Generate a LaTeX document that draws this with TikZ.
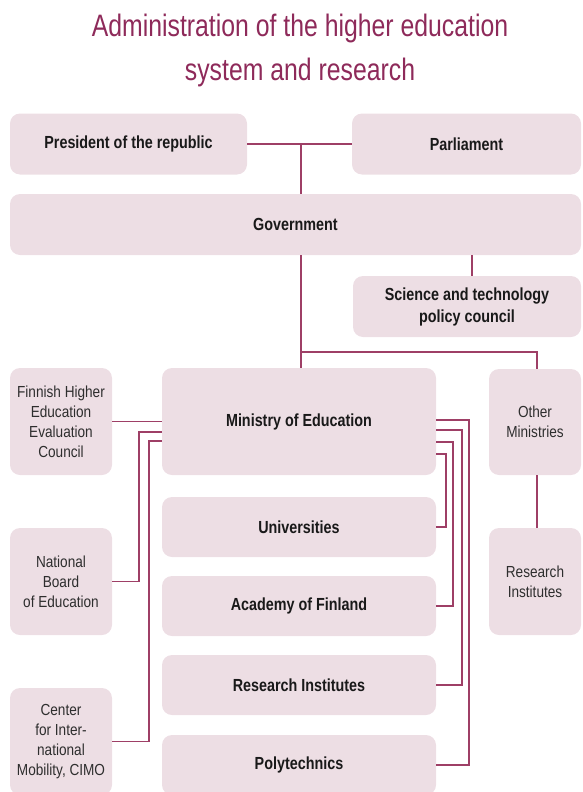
\documentclass[tikz,border=0pt]{standalone}
\usepackage{fontspec}
\setmainfont{Liberation Sans}[FakeStretch=0.82]
\newfontfamily\sidefont{Liberation Sans}[FakeStretch=0.85]
\newfontfamily\titlefont{Liberation Sans}[FakeStretch=0.8]
\definecolor{boxfill}{HTML}{EDDEE4}
\definecolor{linkcol}{HTML}{9E3F66}
\definecolor{titlecol}{HTML}{8E2A5A}
\definecolor{sidetext}{HTML}{2E2E2E}
\begin{document}
\begin{tikzpicture}[x=1pt,y=-1pt,
  box/.style={fill=boxfill,rounded corners=10pt,inner sep=0pt,align=center,
    font=\bfseries\fontsize{17.5}{22}\selectfont,text=black!90},
  sidebox/.style={box,font=\sidefont\fontsize{16}{20}\selectfont,text=sidetext},
  link/.style={draw=linkcol,line width=1.5pt},
  title/.style={font=\titlefont\fontsize{31}{40}\selectfont,text=titlecol,anchor=base}]
\useasboundingbox (0,0) rectangle (582,792);
\clip (0,0) rectangle (582,792);

% title
\node[title] (t1) at (300,37) {Administration of the higher education};
\node[title] (t2) at (300,81) {system and research};

% top level
\node[box,minimum width=237pt,minimum height=61pt] (pres) at (128.5,144) {President of the republic};
\node[box,minimum width=229pt,minimum height=61pt] (parl) at (466.5,144) {Parliament};
\node[box,minimum width=571pt,minimum height=61pt] (gov) at (295.5,224.5) {Government};
\node[box,minimum width=228pt,minimum height=61pt] (sci) at (467,306.5) {Science and technology\\policy council};

% ministries
\node[box,minimum width=274pt,minimum height=107pt] (min) at (299,421.5) {Ministry of Education};
\node[sidebox,minimum width=92pt,minimum height=106pt] (oth) at (535,422) {Other\\Ministries};
\node[sidebox,minimum width=92pt,minimum height=107pt] (rri) at (535,581.5) {Research\\Institutes};

% agencies on the left
\node[sidebox,minimum width=102pt,minimum height=107pt] (fin) at (61,421.5) {Finnish Higher\\Education\\Evaluation\\Council};
\node[sidebox,minimum width=102pt,minimum height=107pt] (nat) at (61,581.5) {National\\Board\\of Education};
\node[sidebox,minimum width=102pt,minimum height=107pt] (cen) at (61,741.5) {Center\\for Inter-\\national\\Mobility, CIMO};

% institutions under the ministry
\node[box,minimum width=274pt,minimum height=60pt] (uni) at (299,527) {Universities};
\node[box,minimum width=274pt,minimum height=60pt] (aca) at (299,606) {Academy of Finland};
\node[box,minimum width=274pt,minimum height=60pt] (res) at (299,685) {Research Institutes};
\node[box,minimum width=274pt,minimum height=60pt] (pol) at (299,765) {Polytechnics};

% junction points
\coordinate (jtop) at (301,144);
\coordinate (jgov) at (301,255);
\coordinate (jsci) at (472,255);
\coordinate (jbus) at (301,352);
\coordinate (joth) at (537,352);
\coordinate (jrr) at (537,475);

% connectors, top part
\draw[link] (pres.east) -- (parl.west);
\draw[link] (jtop) -- (jtop |- gov.north);
\draw[link] (jgov) -- (jgov |- min.north);
\draw[link] (jsci) -- (jsci |- sci.north);
\draw[link] (jbus) -- (joth) -- (joth |- oth.north);
\draw[link] (jrr) -- (jrr |- rri.north);

% connectors, left agencies
\draw[link] (fin.east) -- (fin.east -| min.west);
\draw[link] (nat.east) -- ++(27,0) |- (162,432);
\draw[link] (cen.east) -- ++(37,0) |- (162,441);

% connectors, right institutions
\draw[link] (436,420) -| (469,0 |- pol.east) -- (pol.east);
\draw[link] (436,430) -| (462,0 |- res.east) -- (res.east);
\draw[link] (436,442) -| (453,0 |- aca.east) -- (aca.east);
\draw[link] (436,454) -| (446,0 |- uni.east) -- (uni.east);
\end{tikzpicture}
\end{document}
